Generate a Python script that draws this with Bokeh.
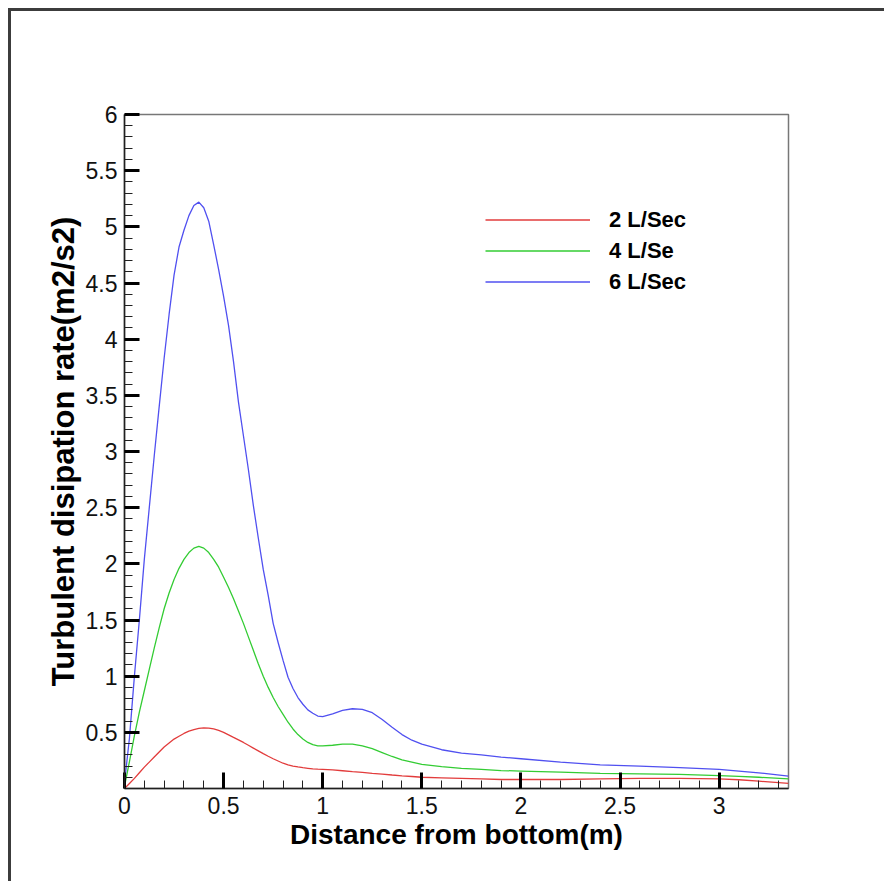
from bokeh.plotting import figure
from bokeh.models import Range1d, FixedTicker, Legend, LegendItem
from bokeh.embed import file_html
from bokeh.resources import INLINE

# ---- data ----
distance = [0, 0.025, 0.05, 0.075, 0.1, 0.125, 0.15, 0.175, 0.2, 0.225, 0.25, 0.275, 0.3,
            0.325, 0.35, 0.375, 0.4, 0.425, 0.45, 0.475, 0.5, 0.525, 0.55, 0.575, 0.6,
            0.625, 0.65, 0.675, 0.7, 0.725, 0.75, 0.775, 0.8, 0.825, 0.85, 0.875, 0.9,
            0.925, 0.95, 0.975, 1.0,
            1.05, 1.1, 1.15, 1.2, 1.25, 1.3, 1.35, 1.4, 1.45, 1.5,
            1.6, 1.7, 1.8, 1.9, 2.0, 2.2, 2.4, 2.6, 2.8, 3.0, 3.1, 3.2, 3.35]

rate_2_lps = [0.0, 0.045, 0.09, 0.14, 0.19, 0.235, 0.28, 0.325, 0.37, 0.405, 0.44, 0.465, 0.49,
              0.51, 0.525, 0.535, 0.54, 0.538, 0.53, 0.517, 0.5, 0.478, 0.455, 0.433, 0.41,
              0.385, 0.36, 0.335, 0.31, 0.287, 0.265, 0.245, 0.225, 0.21, 0.2, 0.192, 0.185,
              0.18, 0.175, 0.172, 0.17,
              0.165, 0.158, 0.15, 0.143, 0.135, 0.128, 0.12, 0.113, 0.107, 0.1,
              0.095, 0.09, 0.085, 0.08, 0.08, 0.08, 0.085, 0.09, 0.09, 0.085, 0.078, 0.065, 0.045]

rate_4_lps = [0.02, 0.24, 0.47, 0.68, 0.87, 1.06, 1.25, 1.43, 1.6, 1.74, 1.86, 1.96, 2.04,
              2.1, 2.14, 2.155, 2.14, 2.1, 2.04, 1.97, 1.88, 1.79, 1.69, 1.58, 1.47,
              1.35, 1.23, 1.11, 1.0, 0.9, 0.81, 0.73, 0.66, 0.59, 0.53, 0.48, 0.44,
              0.41, 0.39, 0.38, 0.38,
              0.385, 0.395, 0.395, 0.38, 0.355, 0.32, 0.285, 0.255, 0.235, 0.215,
              0.195, 0.18, 0.17, 0.16, 0.155, 0.145, 0.135, 0.13, 0.125, 0.115, 0.108, 0.1, 0.085]

rate_6_lps = [0.05, 0.45, 1.0, 1.5, 2.04, 2.5, 2.96, 3.4, 3.83, 4.22, 4.57, 4.82, 4.97,
              5.1, 5.19, 5.22, 5.17, 5.05, 4.84, 4.62, 4.38, 4.12, 3.8, 3.44, 3.14,
              2.84, 2.52, 2.23, 1.95, 1.72, 1.47, 1.3, 1.14, 0.99, 0.89, 0.81, 0.75,
              0.7, 0.67, 0.645, 0.64,
              0.665, 0.695, 0.71, 0.705, 0.675, 0.615, 0.545, 0.48, 0.43, 0.395,
              0.345, 0.315, 0.3, 0.28, 0.265, 0.235, 0.21, 0.2, 0.185, 0.17, 0.155, 0.14, 0.11]

series_labels = ["2 L/Sec", "4 L/Se", "6 L/Sec"]
x_ticks = [0, 0.5, 1, 1.5, 2, 2.5, 3]
y_ticks = [0.5, 1, 1.5, 2, 2.5, 3, 3.5, 4, 4.5, 5, 5.5, 6]
x_title = "Distance from bottom(m)"
y_title = "Turbulent disipation rate(m2/s2)"

# ---- styling ----
FONT = "Liberation Sans"
W, H = 884, 881
ML, MR, MT, MB = 124, 96, 114, 93
colors = ["#e23c3c", "#33cc33", "#5050f0"]

p = figure(width=W, height=H, output_backend="svg", toolbar_location=None,
           x_range=Range1d(0, 3.35), y_range=Range1d(0, 6),
           min_border_left=ML, min_border_right=MR, min_border_top=MT, min_border_bottom=MB)
# the outer picture frame (top and left edges only) is painted behind a transparent border area
p.styles = {"background": "linear-gradient(#3c3c3c, #3c3c3c) 8px 8px / 876px 3px no-repeat, "
                          "linear-gradient(#3c3c3c, #3c3c3c) 8px 8px / 3px 873px no-repeat, #ffffff"}
p.background_fill_color = "white"
p.border_fill_alpha = 0
p.outline_line_color = "#777777"
p.outline_line_width = 1.5
p.xgrid.visible = False
p.ygrid.visible = False

x_minor = [round(i * 0.1, 1) for i in range(1, 34) if i % 5]
y_minor = [round(i * 0.1, 1) for i in range(1, 60) if i % 5]
p.xaxis.ticker = FixedTicker(ticks=x_ticks, minor_ticks=x_minor)
p.yaxis.ticker = FixedTicker(ticks=y_ticks, minor_ticks=y_minor)
p.xaxis.major_label_overrides = {t: f"{t:g}" for t in x_ticks}
p.yaxis.major_label_overrides = {t: f"{t:g}" for t in y_ticks}

for ax in (p.xaxis[0], p.yaxis[0]):
    ax.axis_line_color = "#202020"
    ax.axis_line_width = 1.5
    ax.major_tick_out = 0
    ax.minor_tick_out = 0
    ax.major_tick_line_width = 3
    ax.major_tick_line_color = "black"
    ax.minor_tick_line_width = 1
    ax.minor_tick_line_color = "#202020"
    ax.minor_tick_in = 8
    ax.major_label_text_font = FONT
    ax.major_label_text_font_size = "23px"
    ax.major_label_text_color = "#111111"
    ax.axis_label_text_font = FONT
    ax.axis_label_text_font_style = "bold"
    ax.axis_label_text_color = "black"

p.xaxis.major_tick_in = 16
p.yaxis.major_tick_in = 15
p.xaxis.major_label_standoff = 8
p.yaxis.major_label_standoff = 7
p.xaxis.axis_label = x_title
p.yaxis.axis_label = y_title
p.xaxis.axis_label_text_font_size = "28px"
p.yaxis.axis_label_text_font_size = "31px"
p.xaxis.axis_label_standoff = 2
p.yaxis.axis_label_standoff = 2

renderers = []
for ys, c in zip([rate_2_lps, rate_4_lps, rate_6_lps], colors):
    r = p.line(distance, ys, line_color=c, line_width=1.3)
    renderers.append(r)

legend = Legend(items=[LegendItem(label=lab, renderers=[r]) for lab, r in zip(series_labels, renderers)],
                location=(361, 491), glyph_width=105, glyph_height=31, label_height=31,
                spacing=0, padding=0, margin=0, label_standoff=19,
                border_line_alpha=0, background_fill_alpha=0,
                label_text_font=FONT, label_text_font_style="bold",
                label_text_font_size="22px", label_text_color="black")
p.add_layout(legend)

open("out.html", "w").write(file_html(p, INLINE))
